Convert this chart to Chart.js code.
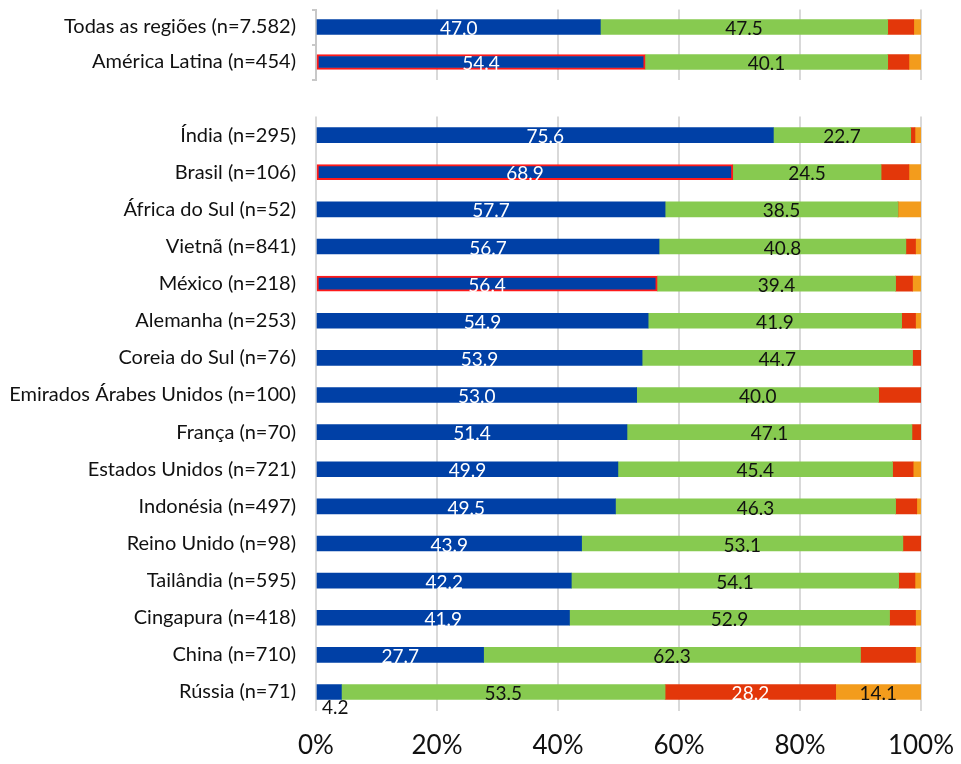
<!DOCTYPE html>
<html>
<head>
<meta charset="utf-8">
<script src="https://cdn.jsdelivr.net/npm/chart.js@4/dist/chart.umd.min.js"></script>
<style>
  html, body { margin: 0; padding: 0; background: #ffffff; }
  #wrap { position: relative; width: 961px; height: 764px; }
  #summary { position: absolute; left: 0; top: 0; width: 961px; height: 92px; }
  #countries { position: absolute; left: 0; top: 100px; width: 961px; height: 664px; }
</style>
</head>
<body>
<div id="wrap">
  <div id="summary"><canvas id="summaryChart"></canvas></div>
  <div id="countries"><canvas id="countryChart"></canvas></div>
</div>
<script>
// Regional totals
const summaryLabels = ['Todas as regiões (n=7.582)', 'América Latina (n=454)'];
const summaryBlue   = [47.0, 54.4];
const summaryGreen  = [47.5, 40.1];
const summaryRed    = [4.3, 3.5];
const summaryOrange = [1.2, 2.0];

// Per-country breakdown
const countryLabels = [
  'Índia (n=295)', 'Brasil (n=106)', 'África do Sul (n=52)', 'Vietnã (n=841)',
  'México (n=218)', 'Alemanha (n=253)', 'Coreia do Sul (n=76)',
  'Emirados Árabes Unidos (n=100)', 'França (n=70)', 'Estados Unidos (n=721)',
  'Indonésia (n=497)', 'Reino Unido (n=98)', 'Tailândia (n=595)',
  'Cingapura (n=418)', 'China (n=710)', 'Rússia (n=71)'
];
const countryBlue   = [75.6, 68.9, 57.7, 56.7, 56.4, 54.9, 53.9, 53.0, 51.4, 49.9, 49.5, 43.9, 42.2, 41.9, 27.7, 4.2];
const countryGreen  = [22.7, 24.5, 38.5, 40.8, 39.4, 41.9, 44.7, 40.0, 47.1, 45.4, 46.3, 53.1, 54.1, 52.9, 62.3, 53.5];
const countryRed    = [0.7, 4.6, 0, 1.6, 2.8, 2.3, 1.4, 7.0, 1.5, 3.4, 3.5, 3.0, 2.7, 4.3, 9.1, 28.2];
const countryOrange = [1.0, 2.0, 3.8, 0.9, 1.4, 0.9, 0, 0, 0, 1.3, 0.7, 0, 1.0, 0.9, 0.9, 14.1];

// Percent axis ticks
const tickValues = [0, 20, 40, 60, 80, 100];

// Latin American rows outlined in red
const outlinedRows = ['América Latina (n=454)', 'Brasil (n=106)', 'México (n=218)'];

const COLORS = { blue: '#0040A6', green: '#87CA50', red: '#E3370A', orange: '#F39C1C' };
const FONT = 'Lato';
const AXIS_LEFT = 316;
const RIGHT_PAD = 40;
const GRID = '#d9d9d9';

Chart.defaults.font.family = FONT;
Chart.defaults.color = '#111111';

// Writes each segment's value inside it; short first segments get their value under the bar.
const valueLabels = {
  id: 'valueLabels',
  afterDatasetsDraw(chart) {
    const ctx = chart.ctx;
    chart.data.datasets.forEach((ds, di) => {
      const meta = chart.getDatasetMeta(di);
      meta.data.forEach((bar, i) => {
        const v = ds.data[i];
        if (!v) return;
        if (!ds.alwaysLabel && v < 10) return;
        const p = bar.getProps(['x', 'base', 'y', 'height'], true);
        ctx.save();
        ctx.font = '19px ' + FONT;
        ctx.textBaseline = 'middle';
        if (v < 10) {
          ctx.fillStyle = '#111111';
          ctx.textAlign = 'left';
          ctx.fillText(v.toFixed(1), Math.min(p.x, p.base) + 5, p.y + p.height / 2 + 8);
        } else {
          ctx.fillStyle = ds.labelColor;
          ctx.textAlign = 'center';
          ctx.fillText(v.toFixed(1), (p.x + p.base) / 2, p.y + 2);
        }
        ctx.restore();
      });
    });
  }
};

function makeDatasets(labels, blue, green, red, orange) {
  return [
    {
      data: blue, backgroundColor: COLORS.blue, labelColor: '#ffffff', alwaysLabel: true,
      borderColor: c => outlinedRows.includes(labels[c.dataIndex]) ? '#ff1a1a' : 'rgba(0,0,0,0)',
      borderWidth: c => outlinedRows.includes(labels[c.dataIndex]) ? 2 : 0,
      borderSkipped: false
    },
    { data: green, backgroundColor: COLORS.green, labelColor: '#111111', alwaysLabel: true },
    { data: red, backgroundColor: COLORS.red, labelColor: '#ffffff', alwaysLabel: false },
    { data: orange, backgroundColor: COLORS.orange, labelColor: '#111111', alwaysLabel: false }
  ];
}

function xScale(showTicks) {
  return {
    stacked: true, min: 0, max: 100,
    afterBuildTicks: s => { s.ticks = tickValues.map(v => ({ value: v })); },
    grid: { color: GRID, lineWidth: 2, drawTicks: false },
    border: { display: false },
    ticks: {
      display: showTicks, padding: 19,
      font: { size: 26, family: FONT }, color: '#111111',
      callback: v => v + '%'
    },
    afterFit: s => {
      s.height = showTicks ? 53.4 : 0;
      s.paddingLeft = 0; s.paddingRight = 0;
    }
  };
}

function yScale(bracket) {
  return {
    stacked: true,
    grid: bracket
      ? { drawOnChartArea: false, drawTicks: true, tickLength: 4, color: '#c8c8c8', lineWidth: 2, offset: true }
      : { display: false },
    border: { display: bracket, color: '#c8c8c8', width: 2 },
    ticks: { padding: bracket ? 16 : 20, font: { size: 20, family: FONT }, color: '#111111', autoSkip: false },
    afterFit: s => {
      s.width = AXIS_LEFT;
      s.paddingTop = 0; s.paddingBottom = 0;
    }
  };
}

function baseOptions(showTicks, bracket, padTop, padBottom) {
  const opts = {
    indexAxis: 'y',
    responsive: true,
    maintainAspectRatio: false,
    animation: false,
    layout: { padding: { left: 0, right: RIGHT_PAD, top: padTop, bottom: padBottom } },
    datasets: { bar: { barThickness: 15 } },
    plugins: { legend: { display: false }, tooltip: { enabled: false } },
    scales: { x: xScale(showTicks), y: yScale(bracket) }
  };
  if (!bracket) opts.scales.y.ticks.padding = 20;
  return opts;
}

new Chart(document.getElementById('summaryChart'), {
  type: 'bar',
  data: { labels: summaryLabels, datasets: makeDatasets(summaryLabels, summaryBlue, summaryGreen, summaryRed, summaryOrange) },
  options: baseOptions(false, true, 9.5, 12.5),
  plugins: [valueLabels]
});

const countryOptions = baseOptions(true, false, 16.5, 0);
countryOptions.scales.y.ticks.padding = 12;

new Chart(document.getElementById('countryChart'), {
  type: 'bar',
  data: { labels: countryLabels, datasets: makeDatasets(countryLabels, countryBlue, countryGreen, countryRed, countryOrange) },
  options: countryOptions,
  plugins: [valueLabels]
});
</script>
</body>
</html>
